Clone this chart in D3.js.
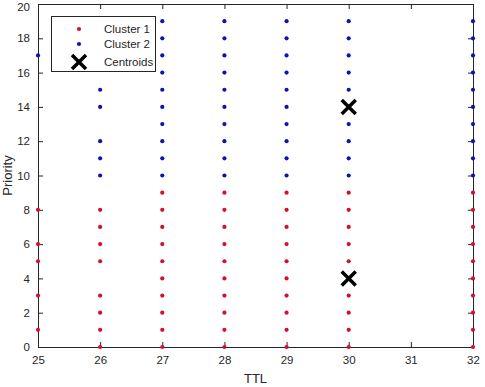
<!DOCTYPE html>
<html>
<head>
<meta charset="utf-8">
<script src="https://cdn.jsdelivr.net/npm/d3@7"></script>
<style>
  body { margin: 0; background: #fff; }
  svg text { font-family: "Liberation Sans", Arial, sans-serif; fill: #262626; }
</style>
</head>
<body>
<div id="chart"></div>
<script>
// TTL values that appear, and which priorities are assigned to each cluster per TTL
const ttlValues = [25, 26, 27, 28, 29, 30, 32];
const cluster1Priorities = {
    25: [1, 3, 5, 6, 8],
    26: [0, 1, 2, 3, 5, 6, 7, 8],
    27: [0, 1, 2, 3, 4, 5, 6, 7, 8, 9],
    28: [0, 1, 2, 3, 4, 5, 6, 7, 8, 9],
    29: [0, 1, 2, 3, 4, 5, 6, 7, 8, 9],
    30: [0, 1, 2, 3, 4, 5, 6, 7, 8, 9],
    32: [0, 1, 2, 3, 4, 5, 6, 7, 8, 9]
};
const cluster2Priorities = {
    25: [17],
    26: [10, 11, 12, 14, 15],
    27: [10, 11, 12, 13, 14, 15, 16, 17, 18, 19],
    28: [10, 11, 12, 13, 14, 15, 16, 17, 18, 19],
    29: [10, 11, 12, 13, 14, 15, 16, 17, 18, 19],
    30: [10, 11, 12, 13, 14, 15, 16, 17, 18, 19],
    32: [10, 11, 12, 13, 14, 15, 16, 17, 18, 19]
};
const centroids = [[30, 4], [30, 14]];
const xTicks = [25, 26, 27, 28, 29, 30, 31, 32];
const yTicks = [0, 2, 4, 6, 8, 10, 12, 14, 16, 18, 20];

const width = 485, height = 387;
const margin = { top: 4, right: 12, bottom: 40, left: 38 };

const svg = d3.select('#chart').append('svg')
    .attr('width', width)
    .attr('height', height);

const x = d3.scaleLinear()
    .domain([25, 32])
    .range([margin.left, width - margin.right]);

const y = d3.scaleLinear()
    .domain([0, 20])
    .range([height - margin.bottom, margin.top]);

// flatten the per-TTL lists into points
function toPoints(lookup) {
    const pts = [];
    ttlValues.forEach(t => lookup[t].forEach(p => pts.push([t, p])));
    return pts;
}
const pts1 = toPoints(cluster1Priorities);
const pts2 = toPoints(cluster2Priorities);

const red = '#d4102e', blue = '#1212b0';

// axes (MATLAB style: inward ticks, box with mirrored ticks)
const axisColor = '#262626';
function styleAxis(g) {
    g.select('.domain').attr('stroke', axisColor);
    g.selectAll('.tick line').attr('stroke', axisColor);
    g.selectAll('.tick text').style('font-size', '11.5px');
}

svg.append('g')
    .attr('transform', `translate(0,${y(0)})`)
    .call(d3.axisBottom(x).tickValues(xTicks).tickFormat(d3.format('d')).tickSize(-5).tickPadding(9).tickSizeOuter(0))
    .call(styleAxis);

svg.append('g')
    .attr('transform', `translate(0,${y(20)})`)
    .call(d3.axisTop(x).tickValues(xTicks).tickSize(-5).tickFormat('').tickSizeOuter(0))
    .call(styleAxis);

const yAxisG = svg.append('g')
    .attr('transform', `translate(${x(25)},0)`)
    .call(d3.axisLeft(y).tickValues(yTicks).tickFormat(d3.format('d')).tickSize(-5).tickPadding(8).tickSizeOuter(0))
    .call(styleAxis);
// keep the top label inside the window
yAxisG.selectAll('.tick text').filter(d => d === 20).attr('dy', '0.55em');

svg.append('g')
    .attr('transform', `translate(${x(32)},0)`)
    .call(d3.axisRight(y).tickValues(yTicks).tickSize(-5).tickFormat('').tickSizeOuter(0))
    .call(styleAxis);

// scatter points
svg.append('g')
    .selectAll('circle')
    .data(pts1)
    .enter()
    .append('circle')
    .attr('cx', d => x(d[0]))
    .attr('cy', d => y(d[1]))
    .attr('r', 2.1)
    .attr('fill', red);

svg.append('g')
    .selectAll('circle')
    .data(pts2)
    .enter()
    .append('circle')
    .attr('cx', d => x(d[0]))
    .attr('cy', d => y(d[1]))
    .attr('r', 2.1)
    .attr('fill', blue);

// centroid crosses
function cross(g, cx, cy, s) {
    g.append('path')
        .attr('d', `M${cx - s},${cy - s}L${cx + s},${cy + s}M${cx - s},${cy + s}L${cx + s},${cy - s}`)
        .attr('stroke', '#000')
        .attr('stroke-width', 3.5)
        .attr('fill', 'none');
}
const cg = svg.append('g');
centroids.forEach(c => cross(cg, x(c[0]), y(c[1]), 7));

// axis labels
svg.append('text')
    .attr('x', (x(25) + x(32)) / 2)
    .attr('y', 383)
    .attr('text-anchor', 'middle')
    .style('font-size', '13px')
    .text('TTL');

svg.append('text')
    .attr('transform', `translate(12,${(y(0) + y(20)) / 2}) rotate(-90)`)
    .attr('text-anchor', 'middle')
    .style('font-size', '13px')
    .text('Priority');

// legend
const legend = svg.append('g');
legend.append('rect')
    .attr('x', 51.5).attr('y', 16.5)
    .attr('width', 104).attr('height', 55)
    .attr('fill', '#fff')
    .attr('stroke', axisColor);

const legendItems = [
    { label: 'Cluster 1', type: 'dot', color: red, y: 29 },
    { label: 'Cluster 2', type: 'dot', color: blue, y: 44 },
    { label: 'Centroids', type: 'cross', y: 62 }
];
legendItems.forEach(d => {
    if (d.type === 'dot') {
        legend.append('circle').attr('cx', 79).attr('cy', d.y).attr('r', 2.1).attr('fill', d.color);
    } else {
        cross(legend, 79, d.y, 7);
    }
    legend.append('text')
        .attr('x', 104)
        .attr('y', d.y + 4)
        .style('font-size', '11.5px')
        .text(d.label);
});
</script>
</body>
</html>
